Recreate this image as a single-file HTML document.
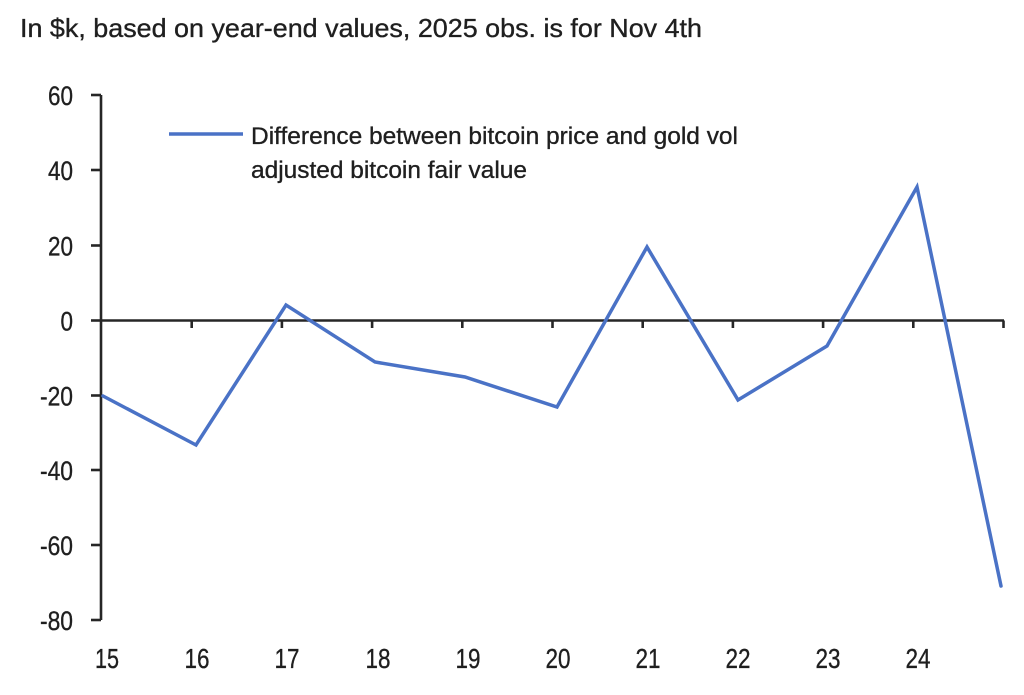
<!DOCTYPE html>
<html>
<head>
<meta charset="utf-8">
<style>
  html,body{margin:0;padding:0;background:#fff;}
  svg{display:block;}
  text{font-family:"Liberation Sans", Arial, sans-serif; fill:#1f1f1f; stroke:#1f1f1f; stroke-width:0.35px;}
</style>
</head>
<body>
<svg width="1024" height="695" viewBox="0 0 1024 695" xmlns="http://www.w3.org/2000/svg">
  <rect width="1024" height="695" fill="#fff"/>
  <!-- title -->
  <text x="20" y="37" font-size="26" textLength="682" lengthAdjust="spacingAndGlyphs">In $k, based on year-end values, 2025 obs. is for Nov 4th</text>

  <!-- y axis -->
  <g stroke="#262626" stroke-width="2.6" fill="none">
    <line x1="101" y1="95" x2="101" y2="620"/>
    <line x1="91" y1="95" x2="101" y2="95"/>
    <line x1="91" y1="170" x2="101" y2="170"/>
    <line x1="91" y1="245.5" x2="101" y2="245.5"/>
    <line x1="91" y1="320.5" x2="101" y2="320.5"/>
    <line x1="91" y1="395.5" x2="101" y2="395.5"/>
    <line x1="91" y1="470" x2="101" y2="470"/>
    <line x1="91" y1="545" x2="101" y2="545"/>
    <line x1="91" y1="620" x2="101" y2="620"/>
    <!-- x axis at zero -->
    <line x1="101" y1="320.5" x2="1004" y2="320.5"/>
    <line x1="191.7" y1="320.5" x2="191.7" y2="328"/>
    <line x1="281.9" y1="320.5" x2="281.9" y2="328"/>
    <line x1="372.1" y1="320.5" x2="372.1" y2="328"/>
    <line x1="462.3" y1="320.5" x2="462.3" y2="328"/>
    <line x1="552.5" y1="320.5" x2="552.5" y2="328"/>
    <line x1="642.7" y1="320.5" x2="642.7" y2="328"/>
    <line x1="732.9" y1="320.5" x2="732.9" y2="328"/>
    <line x1="823.1" y1="320.5" x2="823.1" y2="328"/>
    <line x1="913.3" y1="320.5" x2="913.3" y2="328"/>
    <line x1="1003.5" y1="320.5" x2="1003.5" y2="328"/>
  </g>

  <!-- y labels -->
  <g font-size="27" text-anchor="end">
    <text x="73" y="105" textLength="25" lengthAdjust="spacingAndGlyphs">60</text>
    <text x="73" y="180" textLength="25" lengthAdjust="spacingAndGlyphs">40</text>
    <text x="73" y="255.5" textLength="25" lengthAdjust="spacingAndGlyphs">20</text>
    <text x="73" y="330.5" textLength="12.5" lengthAdjust="spacingAndGlyphs">0</text>
    <text x="73" y="405.5" textLength="33" lengthAdjust="spacingAndGlyphs">-20</text>
    <text x="73" y="480" textLength="33" lengthAdjust="spacingAndGlyphs">-40</text>
    <text x="73" y="555" textLength="33" lengthAdjust="spacingAndGlyphs">-60</text>
    <text x="73" y="630" textLength="33" lengthAdjust="spacingAndGlyphs">-80</text>
  </g>

  <!-- x labels -->
  <g font-size="28" text-anchor="middle">
    <text x="107" y="668" textLength="24" lengthAdjust="spacingAndGlyphs">15</text>
    <text x="197" y="668" textLength="25" lengthAdjust="spacingAndGlyphs">16</text>
    <text x="287" y="668" textLength="25" lengthAdjust="spacingAndGlyphs">17</text>
    <text x="378" y="668" textLength="25" lengthAdjust="spacingAndGlyphs">18</text>
    <text x="468" y="668" textLength="25" lengthAdjust="spacingAndGlyphs">19</text>
    <text x="558" y="668" textLength="25" lengthAdjust="spacingAndGlyphs">20</text>
    <text x="648" y="668" textLength="25" lengthAdjust="spacingAndGlyphs">21</text>
    <text x="738" y="668" textLength="25" lengthAdjust="spacingAndGlyphs">22</text>
    <text x="828" y="668" textLength="25" lengthAdjust="spacingAndGlyphs">23</text>
    <text x="918" y="668" textLength="25" lengthAdjust="spacingAndGlyphs">24</text>
  </g>

  <!-- legend -->
  <line x1="169" y1="134" x2="243" y2="134" stroke="#4a72c6" stroke-width="3.5"/>
  <g font-size="24">
    <text x="251" y="144" textLength="487" lengthAdjust="spacingAndGlyphs">Difference between bitcoin price and gold vol</text>
    <text x="251" y="178" textLength="276" lengthAdjust="spacingAndGlyphs">adjusted bitcoin fair value</text>
  </g>

  <!-- series -->
  <polyline fill="none" stroke="#4a72c6" stroke-width="3.5" stroke-linejoin="miter" stroke-linecap="round"
    points="103,396 196,445 286,305 375,362 465,377 557,407 647,247 738,400 827,346 917,187 1001,586"/>
</svg>
</body>
</html>
